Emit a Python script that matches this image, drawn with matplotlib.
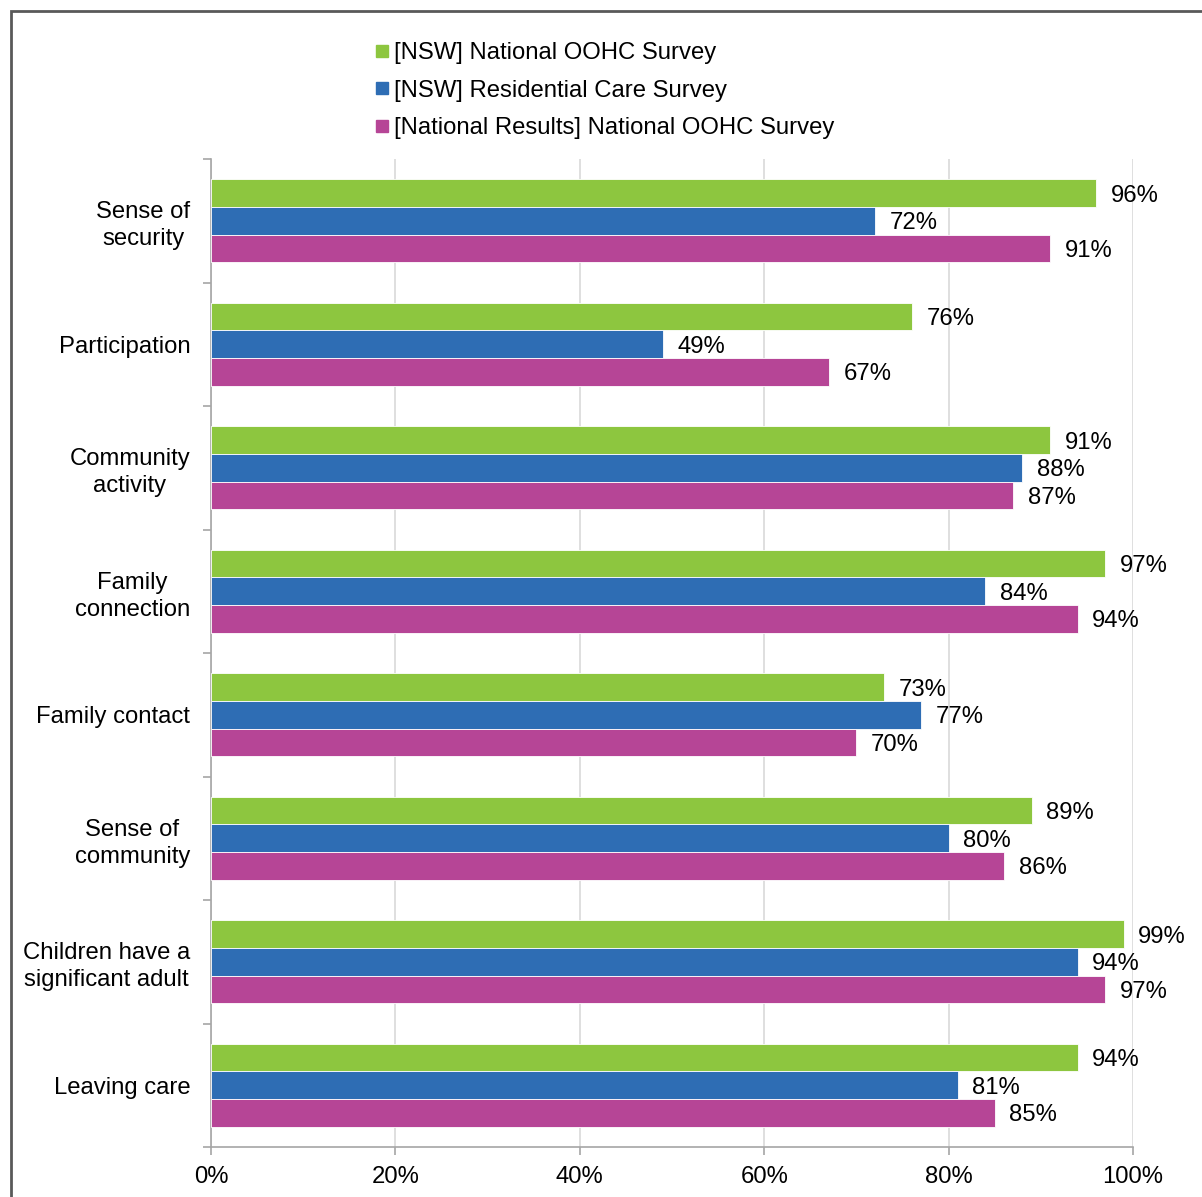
import matplotlib
matplotlib.use("Agg")
import matplotlib.pyplot as plt
from matplotlib.lines import Line2D
from matplotlib.patches import Rectangle
import numpy as np

categories = ["Sense of\nsecurity", "Participation", "Community\nactivity", "Family\nconnection",
              "Family contact", "Sense of\ncommunity", "Children have a\nsignificant adult", "Leaving care"]
series_names = ["[NSW] National OOHC Survey", "[NSW] Residential Care Survey",
                "[National Results] National OOHC Survey"]
nsw_oohc = [96, 76, 91, 97, 73, 89, 99, 94]
nsw_residential = [72, 49, 88, 84, 77, 80, 94, 81]
national_oohc = [91, 67, 87, 94, 70, 86, 97, 85]
xtick_values = [0, 20, 40, 60, 80, 100]
xtick_labels = ["0%", "20%", "40%", "60%", "80%", "100%"]

colors = ["#8DC63F", "#2E6DB4", "#B64596"]

plt.rcParams['font.family'] = ['Liberation Sans', 'DejaVu Sans']
FS = 17.2

fig = plt.figure(figsize=(12.02, 11.97), dpi=100)
ax = fig.add_axes([211/1202, 1 - 1147/1197, (1133-211)/1202, (1147-159)/1197])

n = len(categories)
y = np.arange(n)
h = 0.223
all_series = [nsw_oohc, nsw_residential, national_oohc]
offsets = [-h, 0, h]
for vals, off, col in zip(all_series, offsets, colors):
    bars = ax.barh(y + off, vals, height=h, color=col, edgecolor='white', linewidth=0.6, zorder=3)
    for b, v in zip(bars, vals):
        ax.annotate(f"{v}%", (v, b.get_y() + b.get_height()/2), xytext=(10.5, 0),
                    textcoords='offset points', ha='left', va='center_baseline', fontsize=FS,
                    color='black', zorder=4)

ax.set_xlim(0, 100)
ax.set_ylim(n - 0.5, -0.5)
ax.set_xticks(xtick_values)
ax.set_xticklabels(xtick_labels, fontsize=FS)
ax.set_yticks(y)
ax.set_yticklabels(categories, fontsize=FS, multialignment='center', linespacing=1.3)
ax.set_yticks(np.arange(n + 1) - 0.5, minor=True)
ax.tick_params(axis='y', which='major', length=0, pad=15)
ax.tick_params(axis='y', which='minor', length=6, color='#A6A6A6', width=1.2)
ax.tick_params(axis='x', which='major', length=6, color='#A6A6A6', width=1.2, pad=8)
ax.grid(axis='x', color='#D9D9D9', linewidth=1.2, zorder=0)
for s in ['top', 'right']:
    ax.spines[s].set_visible(False)
for s in ['left', 'bottom']:
    ax.spines[s].set_color('#A6A6A6')
    ax.spines[s].set_linewidth(1.2)

handles = [Line2D([], [], marker='s', linestyle='none', markersize=9, color=c) for c in colors]
fig.legend(handles, series_names, loc='upper left', bbox_to_anchor=(375/1202, 1 - 42/1197),
           frameon=False, fontsize=FS, handlelength=0.6, handletextpad=0.2, labelspacing=0.65,
           borderpad=0, borderaxespad=0)

fig.patches.append(Rectangle((11/1202, -0.1), 1.2, 1 - 11/1197 + 0.1, transform=fig.transFigure,
                             fill=False, edgecolor='#595959', linewidth=2, zorder=10))

fig.savefig("out.png", dpi=100)
